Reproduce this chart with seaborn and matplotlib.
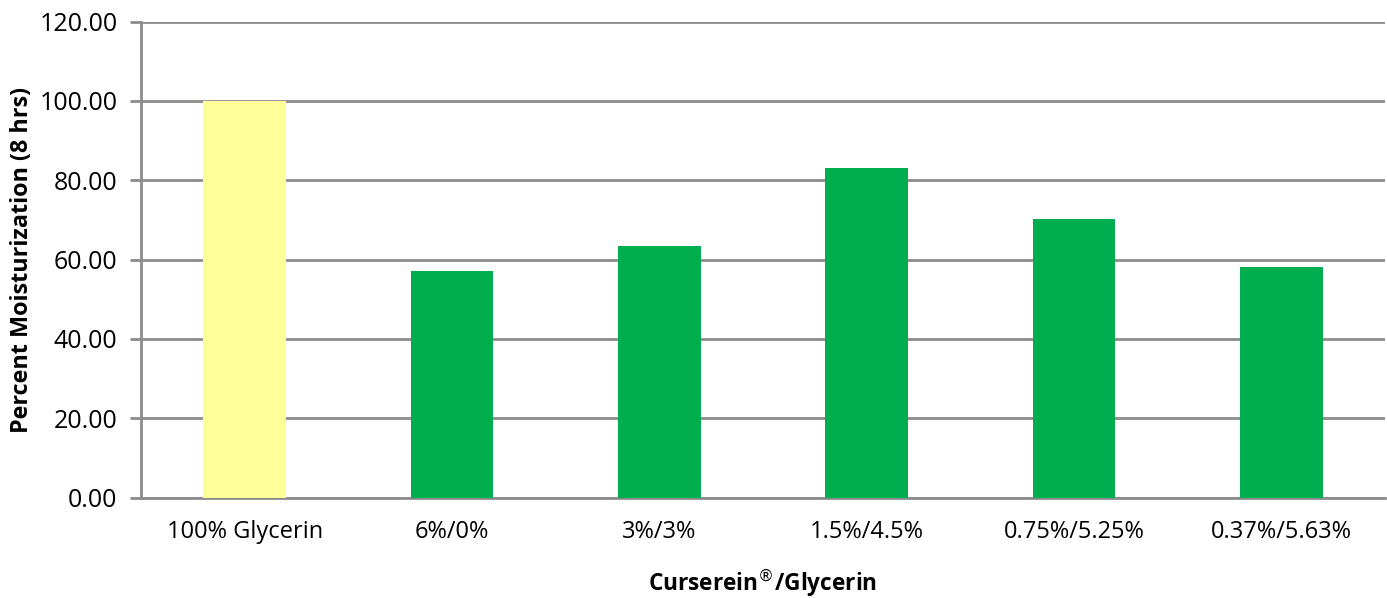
import numpy as np
import pandas as pd
import matplotlib
matplotlib.use("Agg")
import matplotlib.pyplot as plt
import seaborn as sns

# данные
categories = ["100% Glycerin", "6%/0%", "3%/3%", "1.5%/4.5%", "0.75%/5.25%", "0.37%/5.63%"]
moisturization = [100.0, 57.2, 63.5, 83.1, 70.3, 58.0]
bar_colors = ["#FFFF99", "#00AE4F", "#00AE4F", "#00AE4F", "#00AE4F", "#00AE4F"]

sns.set_theme(style="white")
plt.rcParams['font.family'] = ['Open Sans', 'DejaVu Sans']
plt.rcParams['text.color'] = 'black'
plt.rcParams['axes.labelcolor'] = 'black'
plt.rcParams['xtick.color'] = 'black'
plt.rcParams['ytick.color'] = 'black'

df = pd.DataFrame({'group': categories, 'value': moisturization})

W, H = 1387, 598
fig = plt.figure(figsize=(W / 100, H / 100), dpi=100)
ax = fig.add_axes([141 / W, 1 - 497.5 / H, (1385 - 141) / W, (497.5 - 21.5) / H])

sns.barplot(data=df, x='group', y='value', hue='group', palette=bar_colors,
            width=0.4, saturation=1, legend=False, ax=ax, zorder=3,
            linewidth=0, edgecolor='none')

ax.set_ylim(0, 120)
ax.set_xlim(-0.5, len(categories) - 0.5)
yt = np.arange(0, 121, 20)
ax.set_yticks(yt)
ax.set_yticklabels([f"{v:.2f}" for v in yt], fontsize=18)
ax.tick_params(axis='y', length=8, width=2, color='#8C8C8C', pad=9, left=True,
               labelcolor='black')
ax.tick_params(axis='x', length=0, pad=16, labelsize=17, labelcolor='black')

ax.yaxis.grid(True, color='#8C8C8C', linewidth=2, zorder=0)
ax.set_axisbelow(True)
for s in ['top', 'right']:
    ax.spines[s].set_visible(False)
ax.spines['left'].set_color('#8C8C8C')
ax.spines['left'].set_linewidth(2)
ax.spines['bottom'].set_color('#8C8C8C')
ax.spines['bottom'].set_linewidth(2)

ax.set_ylabel('Percent Moisturization (8 hrs)', fontsize=16.8, fontweight='bold', va='center')
ax.set_xlabel('Curserein$^{\u00ae}$/Glycerin', fontsize=16.3, fontweight='bold', va='center')
ax.yaxis.set_label_coords(-119 / 1244, 0.5)
ax.xaxis.set_label_coords(0.5, (497.5 - 583) / 476)

fig.savefig('out.png', dpi=100)
